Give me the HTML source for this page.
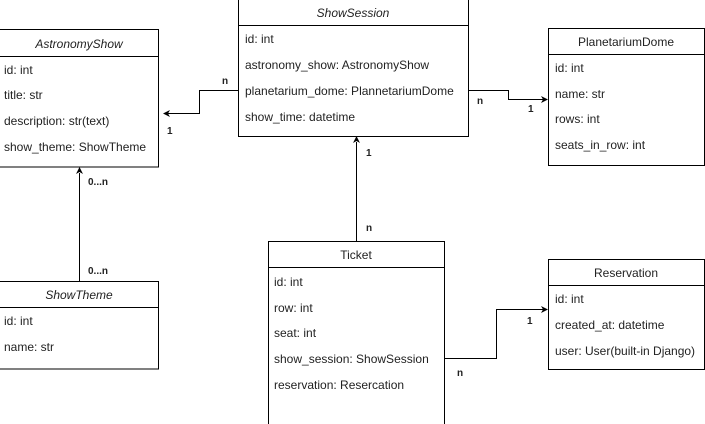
<!DOCTYPE html>
<html><head><meta charset="utf-8"><style>
html,body{margin:0;padding:0;background:#fff;width:705px;height:424px;overflow:hidden}
svg text{font-family:"Liberation Sans",Arial,sans-serif;font-size:12px;fill:#222}
.h{text-anchor:middle}
.i{font-style:italic}
.b{font-weight:bold;font-size:10px}
</style></head><body>
<svg width="705" height="424" viewBox="0 0 705 424" xmlns="http://www.w3.org/2000/svg">
<g fill="#fff" stroke="#000" stroke-width="1">
<!-- AstronomyShow -->
<rect x="-5" y="29.5" width="163.5" height="137.5"/><line x1="-5" y1="56.5" x2="158.5" y2="56.5"/>
<!-- ShowSession -->
<rect x="238.5" y="-5" width="230" height="141.5"/><line x1="238.5" y1="25.5" x2="468.5" y2="25.5"/>
<!-- PlanetariumDome -->
<rect x="548.5" y="28.5" width="156" height="137"/><line x1="548.5" y1="54.5" x2="704.5" y2="54.5"/>
<!-- ShowTheme -->
<rect x="-5" y="281.5" width="163.5" height="87.5"/><line x1="-5" y1="307.5" x2="158.5" y2="307.5"/>
<!-- Ticket -->
<rect x="268.5" y="241.5" width="176" height="200"/><line x1="268.5" y1="267.5" x2="444.5" y2="267.5"/>
<!-- Reservation -->
<rect x="548.5" y="259.5" width="156" height="110"/><line x1="548.5" y1="285.5" x2="704.5" y2="285.5"/>
</g>
<g fill="none" stroke="#000" stroke-width="1">
<polyline points="238,90.5 199.5,90.5 199.5,113.5 168,113.5"/>
<polyline points="468,90.5 508.5,90.5 508.5,99.5 543,99.5"/>
<line x1="356.5" y1="241" x2="356.5" y2="142"/>
<line x1="79.5" y1="281" x2="79.5" y2="173"/>
<polyline points="444,358.5 496.5,358.5 496.5,309.5 543,309.5"/>
</g>
<g fill="#000">
<polygon points="163,113.5 170,110 168,113.5 170,117"/>
<polygon points="548,99.5 541,96 543,99.5 541,103"/>
<polygon points="356.5,136 353,143 356.5,141 360,143"/>
<polygon points="79.5,167 76,174 79.5,172 83,174"/>
<polygon points="548,309.5 541,306 543,309.5 541,313"/>
</g>
<text x="79" y="48" class="h i">AstronomyShow</text>
<text x="4" y="74">id: int</text>
<text x="4" y="99">title: str</text>
<text x="4" y="125">description: str(text)</text>
<text x="4" y="151">show_theme: ShowTheme</text>

<text x="353" y="17" class="h i">ShowSession</text>
<text x="245" y="43">id: int</text>
<text x="245" y="69">astronomy_show: AstronomyShow</text>
<text x="245" y="95">planetarium_dome: PlannetariumDome</text>
<text x="245" y="121">show_time: datetime</text>

<text x="626" y="46" class="h">PlanetariumDome</text>
<text x="555" y="72">id: int</text>
<text x="555" y="98">name: str</text>
<text x="555" y="123">rows: int</text>
<text x="555" y="149">seats_in_row: int</text>

<text x="79" y="299" class="h i">ShowTheme</text>
<text x="4" y="325">id: int</text>
<text x="4" y="351">name: str</text>

<text x="356" y="259" class="h">Ticket</text>
<text x="274" y="286">id: int</text>
<text x="274" y="312">row: int</text>
<text x="274" y="337">seat: int</text>
<text x="274" y="363">show_session: ShowSession</text>
<text x="274" y="389">reservation: Resercation</text>

<text x="626" y="277" class="h">Reservation</text>
<text x="555" y="303">id: int</text>
<text x="555" y="329">created_at: datetime</text>
<text x="555" y="355">user: User(built-in Django)</text>

<text x="222" y="84" class="b">n</text>
<text x="167" y="134" class="b">1</text>
<text x="477" y="104" class="b">n</text>
<text x="528" y="112" class="b">1</text>
<text x="366" y="156" class="b">1</text>
<text x="366" y="231" class="b">n</text>
<text x="88" y="185" class="b">0...n</text>
<text x="88" y="274" class="b">0...n</text>
<text x="527" y="324" class="b">1</text>
<text x="457" y="376" class="b">n</text>
</svg>
</body></html>
